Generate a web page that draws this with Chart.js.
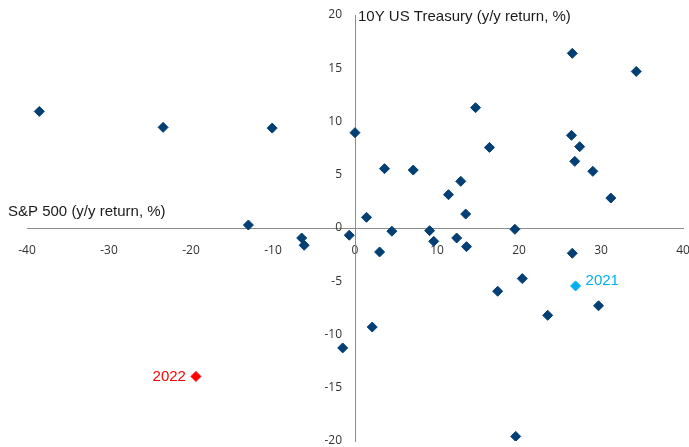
<!DOCTYPE html>
<html>
<head>
<meta charset="utf-8">
<script src="https://cdn.jsdelivr.net/npm/chart.js@4.4.0/dist/chart.umd.min.js"></script>
<style>
html,body{margin:0;padding:0;background:#fff;}
#wrap{width:689px;height:447px;}
</style>
</head>
<body>
<div id="wrap"><canvas id="c" width="689" height="447"></canvas></div>
<script>
// S&P 500 y/y return (%) and 10Y US Treasury y/y return (%), one pair per year
const spReturns = [-38.5, -23.4, -10.1, -13.0, -6.5, -6.2, 0.0, -0.7, 1.4, 3.0, 3.6, 4.5, 7.1, 9.1, 9.6, 11.4, 12.9, 12.4, 13.5, 13.6, 14.7, 16.4, 19.5, 17.4, 20.4, 23.5, 19.6, 26.5, 26.4, 27.4, 26.8, 29.0, 31.2, 26.5, 29.7, 34.3, 2.1, -1.5];
const tyReturns = [10.95, 9.45, 9.38, 0.28, -0.94, -1.62, 8.95, -0.68, 1.0, -2.25, 5.57, -0.3, 5.44, -0.25, -1.25, 3.13, 4.38, -0.94, 1.31, -1.75, 11.3, 7.57, -0.12, -5.94, -4.75, -8.2, -19.57, 16.4, 8.7, 7.64, 6.26, 5.32, 2.81, -2.37, -7.3, 14.7, -9.3, -11.26];
const label2021 = '2021';
const sp2021 = [26.9];
const ty2021 = [-5.44];
const label2022 = '2022';
const sp2022 = [-19.4];
const ty2022 = [-13.94];
const xTitle = 'S&P 500 (y/y return, %)';
const yTitle = '10Y US Treasury (y/y return, %)';

const toPts = (xs, ys) => xs.map((x, i) => ({x: x, y: ys[i]}));
const dark = '#023F74';
const light = '#00B0F0';
const red = '#FF0000';

const textPlugin = {
  id: 'texts',
  beforeDraw(chart) {
    // keep a gap between the y tick labels and the centred y axis
    const items = chart.scales.y.getLabelItems();
    items.forEach(it => {
      if (!it._shifted) { it.options.translation[0] -= 13; it._shifted = true; }
    });
  },
  afterDraw(chart) {
    const ctx = chart.ctx;
    const xs = chart.scales.x;
    ctx.save();
    ctx.font = '15px "Liberation Sans", Arial, sans-serif';
    ctx.textBaseline = 'middle';
    ctx.fillStyle = '#1a1a1a';
    ctx.textAlign = 'left';
    ctx.fillText(xTitle, 8, 212);
    ctx.fillText(yTitle, xs.getPixelForValue(0) + 3, 17);
    // point labels
    const p21 = chart.getDatasetMeta(1).data[0];
    ctx.fillStyle = light;
    ctx.fillText(label2021, p21.x + 10, p21.y - 5);
    const p22 = chart.getDatasetMeta(2).data[0];
    ctx.fillStyle = red;
    ctx.textAlign = 'right';
    ctx.fillText(label2022, p22.x - 10, p22.y);
    ctx.restore();
  }
};

const noPad = (scale) => { scale.paddingLeft = 0; scale.paddingRight = 0; scale.paddingTop = 0; scale.paddingBottom = 0; };

const marker = (c) => ({backgroundColor: c, borderColor: c, borderWidth: 1, pointStyle: 'rectRot', pointRadius: 5});

new Chart(document.getElementById('c'), {
  type: 'scatter',
  data: {
    datasets: [
      Object.assign({data: toPts(spReturns, tyReturns)}, marker(dark)),
      Object.assign({data: toPts(sp2021, ty2021)}, marker(light)),
      Object.assign({data: toPts(sp2022, ty2022)}, marker(red))
    ]
  },
  options: {
    responsive: false,
    animation: false,
    events: [],
    layout: {padding: {left: 27, right: 6, top: 15, bottom: 5}},
    plugins: {legend: {display: false}, tooltip: {enabled: false}},
    scales: {
      x: {
        type: 'linear', min: -40, max: 40,
        position: {y: 0},
        grid: {display: false, drawTicks: false},
        border: {display: true, color: '#8c8c8c', width: 1},
        ticks: {stepSize: 10, padding: 15, color: '#333', font: {family: '"Open Sans", sans-serif', size: 12}, maxRotation: 0, autoSkip: false},
        afterFit: noPad
      },
      y: {
        type: 'linear', min: -20, max: 20,
        position: {x: 0},
        grid: {display: false, drawTicks: false},
        border: {display: true, color: '#8c8c8c', width: 1},
        ticks: {stepSize: 5, padding: 0, color: '#333', font: {family: '"Open Sans", sans-serif', size: 12}, autoSkip: false},
        afterFit: noPad
      }
    }
  },
  plugins: [textPlugin]
});
</script>
</body>
</html>
